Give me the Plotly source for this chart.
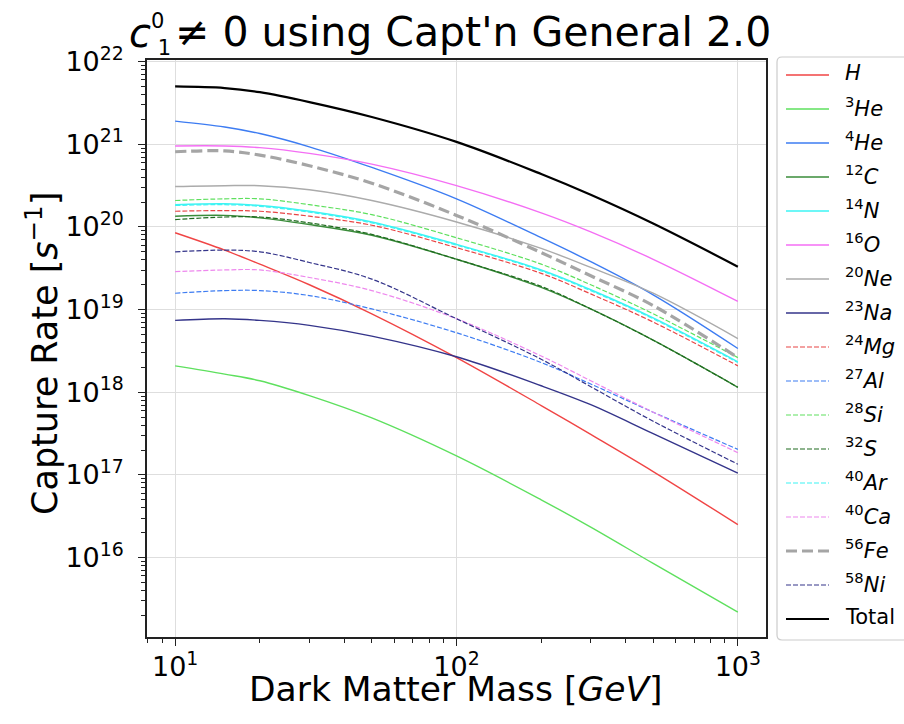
import plotly.graph_objects as go

# ---------------- data ----------------
mass = [10, 15, 20, 30, 50, 100, 200, 300, 500, 1000]

rate_H    = [8.51e19, 5.25e19, 3.55e19, 2.00e19, 8.91e18, 2.63e18, 6.92e17, 3.09e17, 1.10e17, 2.51e16]
rate_He3  = [2.09e18, 1.66e18, 1.38e18, 9.12e17, 4.90e17, 1.70e17, 5.01e16, 2.34e16, 8.51e15, 2.19e15]
rate_He4  = [1.91e21, 1.62e21, 1.35e21, 9.33e20, 5.25e20, 2.19e20, 7.41e19, 3.80e19, 1.51e19, 3.39e18]
rate_C12  = [1.35e20, 1.38e20, 1.29e20, 1.07e20, 7.94e19, 4.07e19, 1.86e19, 1.02e19, 4.27e18, 1.15e18]
rate_N14  = [1.86e20, 1.91e20, 1.82e20, 1.55e20, 1.15e20, 6.17e19, 3.02e19, 1.74e19, 7.94e18, 2.34e18]
rate_O16  = [9.55e20, 9.55e20, 9.12e20, 7.76e20, 5.75e20, 3.16e20, 1.48e20, 8.71e19, 4.07e19, 1.26e19]
rate_Ne20 = [3.09e20, 3.16e20, 3.16e20, 2.82e20, 2.09e20, 1.15e20, 5.50e19, 3.24e19, 1.58e19, 4.47e18]
rate_Na23 = [7.41e18, 7.76e18, 7.41e18, 6.46e18, 4.79e18, 2.69e18, 1.20e18, 7.08e17, 3.16e17, 1.05e17]
rate_Mg24 = [1.55e20, 1.58e20, 1.55e20, 1.35e20, 1.05e20, 5.62e19, 2.75e19, 1.55e19, 7.08e18, 2.09e18]
rate_Al27 = [1.58e19, 1.70e19, 1.70e19, 1.48e19, 1.02e19, 5.25e18, 2.29e18, 1.26e18, 5.75e17, 2.04e17]
rate_Si28 = [2.09e20, 2.19e20, 2.19e20, 1.86e20, 1.41e20, 7.41e19, 3.55e19, 2.00e19, 8.91e18, 2.63e18]
rate_S32  = [1.23e20, 1.32e20, 1.32e20, 1.12e20, 8.13e19, 4.07e19, 1.91e19, 1.02e19, 4.27e18, 1.15e18]
rate_Ar40 = [1.82e20, 1.86e20, 1.78e20, 1.51e20, 1.12e20, 6.03e19, 2.95e19, 1.70e19, 7.76e18, 2.29e18]
rate_Ca40 = [2.88e19, 3.02e19, 3.02e19, 2.45e19, 1.70e19, 7.76e18, 2.75e18, 1.38e18, 5.75e17, 1.86e17]
rate_Fe56 = [8.13e20, 8.32e20, 7.41e20, 5.50e20, 3.39e20, 1.38e20, 4.90e19, 2.57e19, 1.12e19, 2.63e18]
rate_Ni58 = [5.01e19, 5.25e19, 5.01e19, 3.72e19, 2.34e19, 7.76e18, 2.51e18, 1.17e18, 4.47e17, 1.35e17]
rate_Total = [5.01e21, 4.79e21, 4.27e21, 3.24e21, 2.14e21, 1.07e21, 4.37e20, 2.45e20, 1.10e20, 3.31e19]

labels = ["<i>H</i>", "<sup>3</sup><i>He</i>", "<sup>4</sup><i>He</i>", "<sup>12</sup><i>C</i>",
          "<sup>14</sup><i>N</i>", "<sup>16</sup><i>O</i>", "<sup>20</sup><i>Ne</i>",
          "<sup>23</sup><i>Na</i>", "<sup>24</sup><i>Mg</i>", "<sup>27</sup><i>Al</i>",
          "<sup>28</sup><i>Si</i>", "<sup>32</sup><i>S</i>", "<sup>40</sup><i>Ar</i>",
          "<sup>40</sup><i>Ca</i>", "<sup>56</sup><i>Fe</i>", "<sup>58</sup><i>Ni</i>", "Total"]
rates = [rate_H, rate_He3, rate_He4, rate_C12, rate_N14, rate_O16, rate_Ne20, rate_Na23,
         rate_Mg24, rate_Al27, rate_Si28, rate_S32, rate_Ar40, rate_Ca40, rate_Fe56, rate_Ni58,
         rate_Total]

x_ticks = [10, 100, 1000]
x_ticktext = ["10<sup>1</sup>", "10<sup>2</sup>", "10<sup>3</sup>"]
y_ticks = [1e16, 1e17, 1e18, 1e19, 1e20, 1e21, 1e22]
y_ticktext = ["10<sup>16</sup>", "10<sup>17</sup>", "10<sup>18</sup>", "10<sup>19</sup>",
              "10<sup>20</sup>", "10<sup>21</sup>", "10<sup>22</sup>"]

# ---------------- styles ----------------
DASH = "5px,2px"
styles = [
    ("#f04545", "solid", 1.4), ("#5ee05e", "solid", 1.4), ("#3d7cf2", "solid", 1.4),
    ("#3a8c3a", "solid", 1.4), ("#3cf4f4", "solid", 1.4), ("#f46ef4", "solid", 1.4),
    ("#ababab", "solid", 1.4), ("#34348a", "solid", 1.4), ("#e84545", DASH, 1.2),
    ("#3d7cf2", DASH, 1.2), ("#5ee05e", DASH, 1.2), ("#1f6a1f", DASH, 1.2),
    ("#3cf4f4", DASH, 1.2), ("#ee88ee", DASH, 1.2), ("#a5a5a5", "11px,5px", 3.2),
    ("#34348a", DASH, 1.2), ("#000000", "solid", 2.2),
]

W, H = 904, 724
L, R, T, B = 147, 766, 60, 637
FONT = "DejaVu Sans"


def px(x):
    return (x - L) / (R - L)


def py(y):
    return (B - y) / (B - T)


fig = go.Figure()
for lab, r, (c, d, w) in zip(labels, rates, styles):
    fig.add_trace(go.Scatter(x=mass, y=r, mode="lines", name=lab,
                             line=dict(color=c, dash=d, width=w, shape="spline", smoothing=1.0),
                             showlegend=False))

minor_x = [float(k) * 10.0 ** e for e in range(0, 4) for k in range(2, 10)]
minor_y = [float(k) * 10.0 ** e for e in range(15, 22) for k in range(2, 10)]

axis_common = dict(type="log", showline=True, mirror=True, linecolor="#222222", linewidth=1.5,
                   ticks="outside", ticklen=7, tickwidth=1.3, tickcolor="#222222",
                   showgrid=True, gridcolor="#dedede", gridwidth=1, zeroline=False,
                   tickfont=dict(family=FONT, size=27, color="black"))

fig.update_xaxes(range=[0.9, 3.1], tickvals=x_ticks, ticktext=x_ticktext,
                 ticklabelstandoff=-2,
                 minor=dict(tickvals=minor_x, ticks="outside", ticklen=4, tickwidth=1,
                            tickcolor="#222222", showgrid=False), **axis_common)
fig.update_yaxes(range=[15.04, 22.02], tickvals=y_ticks, ticktext=y_ticktext,
                 ticklabelstandoff=9,
                 minor=dict(tickvals=minor_y, ticks="outside", ticklen=4, tickwidth=1,
                            tickcolor="#222222", showgrid=False), **axis_common)

ann = []
# title pieces (c with stacked super/subscript)
ann.append(dict(text="<i>c</i>", x=px(128), y=py(33), font=dict(size=40)))
ann.append(dict(text="0<br>\u00a01", x=px(150), y=py(35), font=dict(size=21), align="left"))
ann.append(dict(text="\u2260 0 using Capt'n General 2.0", x=px(174), y=py(32), font=dict(size=41)))
# axis titles
ann.append(dict(text="Dark Matter Mass [<i>GeV</i>]", x=px(456), y=py(689), xanchor="center",
                font=dict(size=34.5)))
ann.append(dict(text="Capture Rate [<i>s</i><sup>\u22121</sup>]", x=px(42), y=py(354),
                xanchor="center", textangle=-90, font=dict(size=35)))

shapes = []
# legend frame (key), rounded left corners, right side runs off the page
lx0, lx1, ly0, ly1, rr = 777, 912, 57, 640, 5
path = (f"M {px(lx0+rr)},{py(ly0)} L {px(lx1)},{py(ly0)} L {px(lx1)},{py(ly1)} "
        f"L {px(lx0+rr)},{py(ly1)} Q {px(lx0)},{py(ly1)} {px(lx0)},{py(ly1-rr)} "
        f"L {px(lx0)},{py(ly0+rr)} Q {px(lx0)},{py(ly0)} {px(lx0+rr)},{py(ly0)} Z")
shapes.append(dict(type="path", path=path, xref="paper", yref="paper",
                   line=dict(color="#cccccc", width=1.2), fillcolor="white", layer="below"))
for i, (lab, (c, d, w)) in enumerate(zip(labels, styles)):
    yy = 75 + 34 * i
    shapes.append(dict(type="line", xref="paper", yref="paper", x0=px(786), x1=px(829),
                       y0=py(yy), y1=py(yy), line=dict(color=c, dash=d, width=w)))
    ann.append(dict(text=lab, x=px(844), y=py(yy - 2), font=dict(size=21)))

for a in ann:
    a.setdefault("xanchor", "left")
    a.update(xref="paper", yref="paper", yanchor="middle", showarrow=False, borderpad=0)
    a["font"].update(family=FONT, color="black")

fig.update_layout(width=W, height=H, margin=dict(l=L, r=W - R, t=T, b=H - B, autoexpand=False),
                  paper_bgcolor="white", plot_bgcolor="white", showlegend=False,
                  font=dict(family=FONT, color="black"), annotations=ann, shapes=shapes)

fig.write_html("out.html")
